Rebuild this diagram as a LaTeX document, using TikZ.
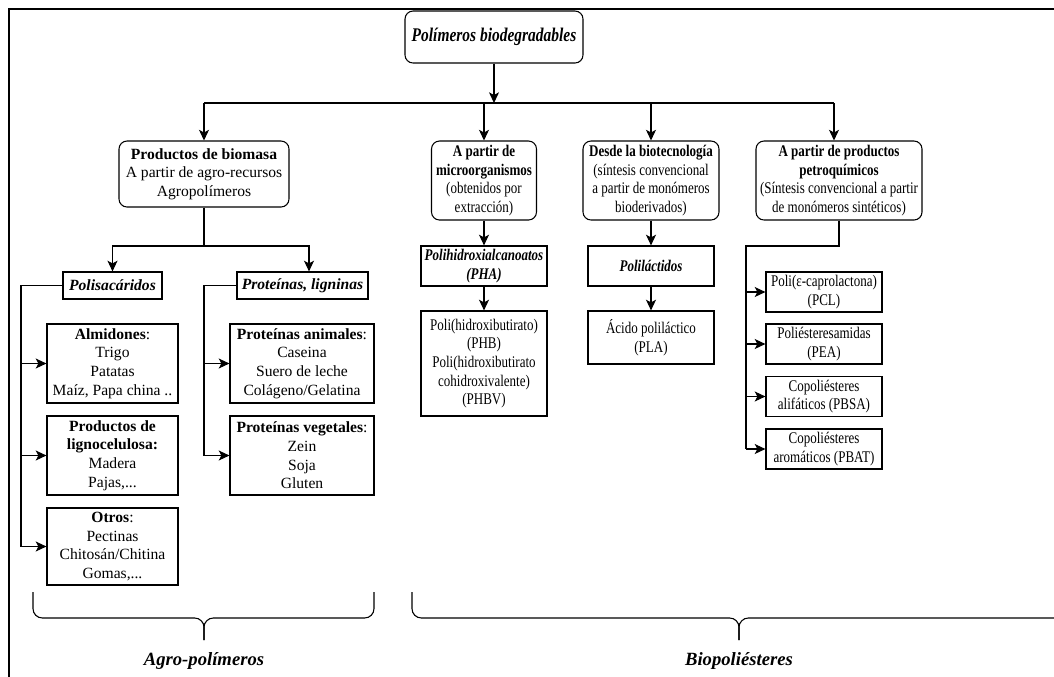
\documentclass[tikz,border=0pt]{standalone}
\usepackage{fontspec}
\setmainfont{Liberation Serif}
\newfontfamily\narrowfont{Liberation Serif}[FakeStretch=0.8]
\usetikzlibrary{arrows.meta, calc}

\tikzset{
  wh/.style 2 args={minimum width=#1*0.75pt, minimum height=#2*0.75pt},
  rbox/.style={draw, rounded corners=6pt, line width=0.8pt, fill=white},
  sbox/.style={draw, line width=0.9pt, fill=white},
  narrow/.style={font=\narrowfont\fontsize{12.2}{14}\selectfont},
  conn/.style={line width=0.8pt},
  arr/.style={conn, -{Stealth[length=8pt,width=7.5pt,inset=2pt]}},
  bracelabel/.style={font=\fontsize{14}{17}\selectfont\bfseries\itshape}
}

\begin{document}
\begin{tikzpicture}[x=0.75pt, y=-0.75pt,
  every node/.style={font=\fontsize{11.7}{14}\selectfont, align=center, inner sep=0pt}]
\clip (0,0) rectangle (1054,676);
\fill[white] (0,0) rectangle (1054,676);

% Frame
\draw[line width=1.6pt] (9,690) -- (9,9) -- (1070,9);

% Top
\node[rbox, narrow, wh={178}{52}] (top) at (494,37) {\fontsize{14.5}{17}\selectfont\bfseries\itshape Polímeros biodegradables};

% Second level
\node[rbox, wh={170}{66}] (bio) at (204,174) {\textbf{Productos de biomasa}\\A partir de agro-recursos\\Agropolímeros};
\node[rbox, narrow, wh={105}{79}] (micro) at (484,180.5) {\textbf{A partir de}\\\textbf{microorganismos}\\(obtenidos por\\extracción)};
\node[rbox, narrow, wh={136}{79}] (biotec) at (651,180.5) {\textbf{Desde la biotecnología}\\(síntesis convencional\\a partir de monómeros\\bioderivados)};
\node[rbox, narrow, wh={166}{79}] (petro) at (839,180.5) {\textbf{A partir de productos}\\\textbf{petroquímicos}\\(Síntesis convencional a partir\\de monómeros sintéticos)};

\coordinate (bus) at (0,103);
\coordinate (petroin) at ($(petro.north)+(-5,0)$);
\draw[arr] (top) -- (top |- bus);
\draw[conn] (bio.north |- bus) -- (petroin |- bus);
\foreach \n in {bio,micro,biotec}
  \draw[arr] (\n.north |- bus) -- (\n.north);
\draw[arr] (petroin |- bus) -- (petroin);

% Agro-polymers branch
\node[sbox, wh={99}{27}] (polis) at (112.5,285.5) {\textbf{\textit{Polisacáridos}}};
\node[sbox, wh={131}{27}] (prot) at (302.5,285.5) {\textbf{\textit{Proteínas, ligninas}}};
\coordinate (bsplit) at (204,246);
\coordinate (protin) at ($(prot.north)+(6.5,0)$);
\draw[conn] (bio.south) -- (bsplit);
\draw[arr] (bsplit) -| (polis.north);
\draw[arr] (bsplit) -| (protin);

\node[sbox, wh={131}{79}] (alm) at (112.5,363.5) {\textbf{Almidones}:\\Trigo\\Patatas\\Maíz, Papa china ..};
\node[sbox, wh={131}{79}] (ligno) at (112.5,455.5) {\textbf{Productos de}\\\textbf{lignocelulosa:}\\Madera\\Pajas,...};
\node[sbox, wh={131}{77}] (otros) at (112.5,546.5) {\textbf{Otros}:\\Pectinas\\Chitosán/Chitina\\Gomas,...};
\coordinate (prail) at (21,0);
\draw[conn] (polis.west) -- (polis.west -| prail) -- (prail |- otros.west);
\foreach \n in {alm,ligno,otros}
  \draw[arr] (prail |- \n.west) -- (\n.west);

\node[sbox, wh={144}{79}] (panim) at (302,363.5) {\textbf{Proteínas animales}:\\Caseina\\Suero de leche\\Colágeno/Gelatina};
\node[sbox, wh={144}{79}] (pveg) at (302,455.5) {\textbf{Proteínas vegetales}:\\Zein\\Soja\\Gluten};
\coordinate (qrail) at (204,0);
\draw[conn] (prot.west) -- (prot.west -| qrail) -- (qrail |- pveg.west);
\foreach \n in {panim,pveg}
  \draw[arr] (qrail |- \n.west) -- (\n.west);

% Microorganisms and biotechnology
\node[sbox, narrow, wh={126}{40}] (pha) at (484,266) {\textbf{\textit{Polihidroxialcanoatos}}\\\textbf{\textit{(PHA)}}};
\node[sbox, narrow, wh={126}{105}] (phb) at (484,363.5) {Poli(hidroxibutirato)\\(PHB)\\Poli(hidroxibutirato\\cohidroxivalente)\\(PHBV)};
\draw[arr] (micro) -- (pha);
\draw[arr] (pha) -- (phb);

\node[sbox, narrow, wh={126}{40}] (plat) at (651,266) {\textbf{\textit{Poliláctidos}}};
\node[sbox, narrow, wh={126}{53}] (pla) at (651,337.5) {Ácido poliláctico\\(PLA)};
\draw[arr] (biotec) -- (plat);
\draw[arr] (plat) -- (pla);

% Petrochemical branch
\node[sbox, narrow, wh={116}{40}] (pcl) at (824,292) {Poli(ε-caprolactona)\\(PCL)};
\node[sbox, narrow, wh={116}{40}] (pea) at (824,344) {Poliésteresamidas\\(PEA)};
\node[sbox, narrow, wh={116}{40}] (pbsa) at (824,396.5) {Copoliésteres\\alifáticos (PBSA)};
\node[sbox, narrow, wh={116}{40}] (pbat) at (824,449) {Copoliésteres\\aromáticos (PBAT)};
\coordinate (rtop) at (746,246);
\draw[conn] (petro.south) |- (rtop) -- (rtop |- pbat.west);
\foreach \n in {pcl,pea,pbsa,pbat}
  \draw[arr] (rtop |- \n.west) -- (\n.west);

% Braces
\draw[conn, rounded corners=7pt] (33,592) -- (33,618) -- (204,618) -- (204,640);
\draw[conn, rounded corners=7pt] (374,592) -- (374,618) -- (204,618) -- (204,640);
\draw[conn, rounded corners=7pt] (412,592) -- (412,618) -- (739,618) -- (739,640);
\draw[conn, rounded corners=7pt] (1070,592) -- (1070,618) -- (739,618) -- (739,640);
\node[bracelabel] (agro) at (204,661) {Agro-polímeros};
\node[bracelabel] (biop) at (739,661) {Biopoliésteres};
\end{tikzpicture}
\end{document}
